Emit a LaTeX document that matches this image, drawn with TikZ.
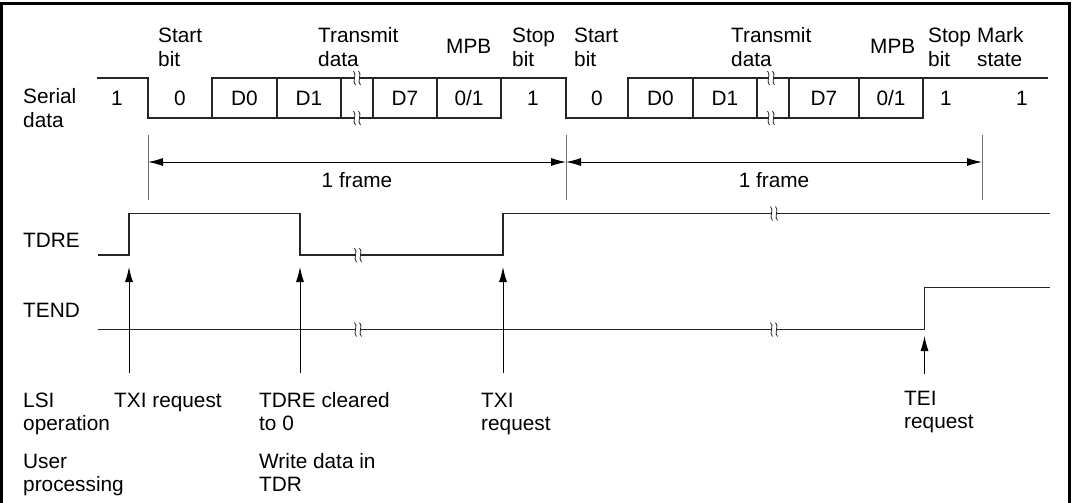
\documentclass[tikz,border=0pt]{standalone}
\usepackage{fontspec}
\setmainfont{Liberation Sans}
\usetikzlibrary{arrows.meta}
\tikzset{
  txt/.style={anchor=base west, inner sep=0pt, align=left, font=\fontsize{20.8}{23.5}\selectfont},
  bitval/.style={anchor=base, inner sep=0pt, font=\fontsize{20.8}{23.5}\selectfont},
  wave/.style={draw=black!85, line width=1.2pt},
  tick/.style={draw=black!55, line width=1pt},
  evt/.style={->, >={Latex[length=15pt,width=8pt]}, line width=0.9pt},
}
% break mark on a signal line
\newcommand{\sigbrk}[1]{%
  \begin{scope}[shift={(#1)}]
    \fill[white] (-2.2,-5) rectangle (2.2,5);
    \draw[black!85, line width=0.8pt] (-3.5,-7) .. controls (0.5,-4) and (-5.5,4) .. (-1.5,7);
    \draw[black!85, line width=0.8pt] (1.5,-7) .. controls (5.5,-4) and (-0.5,4) .. (3.5,7);
  \end{scope}}
\begin{document}
\begin{tikzpicture}[x=1pt, y=-1pt]
  \useasboundingbox (0,0) rectangle (1073,503);
  \draw[line width=3pt] (1.7,503) -- (1.7,4) -- (1069.7,4) -- (1069.7,503);

  % header (two-line nodes sit on their last baseline)
  \node[txt] (sb1) at (158,66.2) {Start\\bit};
  \node[txt] (td1) at (318,66.2) {Transmit\\data};
  \node[txt] (mp1) at (446,54) {MPB};
  \node[txt] (st1) at (512,66.2) {Stop\\bit};
  \node[txt] (sb2) at (574,66.2) {Start\\bit};
  \node[txt] (td2) at (731,66.2) {Transmit\\data};
  \node[txt] (mp2) at (870,54) {MPB};
  \node[txt] (st2) at (928,66.2) {Stop\\bit};
  \node[txt] (mk) at (977,66.2) {Mark\\state};

  % serial data
  \node[txt] (sd) at (23,127) {Serial\\data};
  \draw[wave] (97,78) -- (148,78) -- (148,118) -- (501,118) -- (501,78) -- (212,78) -- (212,118);
  \draw[wave] (501,78) -- (566,78) -- (566,118) -- (923,118) -- (923,78) -- (628,78) -- (628,118);
  \draw[wave] (923,78) -- (1048,78);
  \foreach \x in {277,341,373,437,693,757,789,859}
    \draw[wave] (\x,78) -- (\x,118);
  \foreach \x in {357,771} {
    \sigbrk{\x,78} \sigbrk{\x,118}
  }
  \foreach \x/\v [count=\i] in {117/1,180/0,244.5/D0,309/D1,405/D7,469/0\slash 1,533/1,
      597/0,660.5/D0,725/D1,824/D7,891/0\slash 1,946/1,1022/1}
    \node[bitval] (b\i) at (\x,105) {\v};

  % frames
  \foreach \x/\n in {148/f0,566/f1,982/f2} {
    \coordinate (\n) at (\x,162);
    \draw[tick] (\x,135) -- (\x,200);
  }
  \draw[evt, <->] (f0) -- (f1) node[midway, bitval, yshift=-25pt] (fr1) {1 frame};
  \draw[evt, <->] (f1) -- (f2) node[midway, bitval, yshift=-25pt] (fr2) {1 frame};

  % TDRE / TEND
  \node[txt] (tdre) at (23,247) {TDRE};
  \node[txt] (tend) at (23,317) {TEND};
  \draw[wave] (98,255) -- (129,255) -- (129,213.5) -- (300,213.5) -- (300,255) -- (503,255)
    -- (503,213.5) -- (1050,213.5);
  \draw[wave] (98,329.5) -- (924.5,329.5) -- (924.5,287.7) -- (1050,287.7);
  \sigbrk{358,255} \sigbrk{774,213.5}
  \sigbrk{358,329.5} \sigbrk{774,329.5}

  % events
  \foreach \x/\n in {129/e1,300/e2,503/e3} {
    \coordinate (\n a) at (\x,373);
    \coordinate (\n b) at (\x,267);
    \draw[evt] (\n a) -- (\n b);
  }
  \coordinate (e4a) at (924.5,374);
  \coordinate (e4b) at (924.5,336);
  \draw[evt] (e4a) -- (e4b);

  % bottom labels
  \node[txt] (lsi) at (23,430.5) {LSI\\operation};
  \node[txt] (usr) at (23,491.5) {User\\processing};
  \node[txt] (txi1) at (114,407) {TXI request};
  \node[txt] (clr) at (259,430.5) {TDRE cleared\\to 0};
  \node[txt] (wr) at (259,491.5) {Write data in\\TDR};
  \node[txt] (txi2) at (481,430.5) {TXI\\request};
  \node[txt] (tei) at (904,428.5) {TEI\\request};
\end{tikzpicture}
\end{document}
